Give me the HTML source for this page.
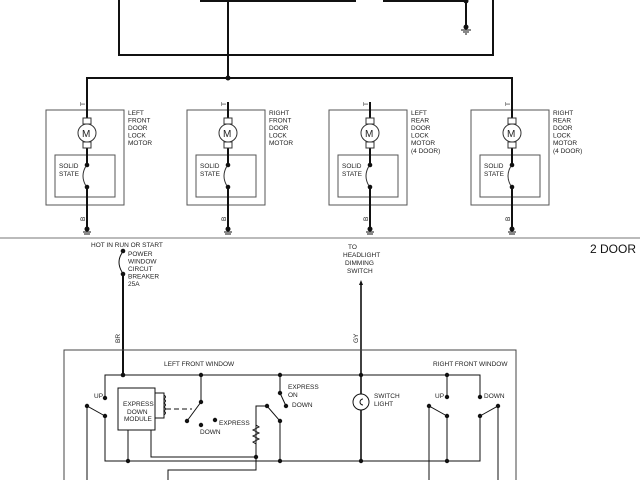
<!DOCTYPE html>
<html><head><style>
body{margin:0;background:#fff}
svg{display:block}
text{font-family:"Liberation Sans",sans-serif;font-size:6.5px;fill:#222}
</style></head><body>
<svg width="640" height="480" viewBox="0 0 640 480" xmlns="http://www.w3.org/2000/svg">
<g stroke="#111" fill="none" stroke-width="2">
<path d="M119 0V55H493V0"/>
<path d="M200 1H356M383 1H466V28"/>
<path d="M228 0V78"/>
<path d="M87 110V78H512V110"/>
</g>
<circle cx="228" cy="78" r="2.5" fill="#111"/>
<circle cx="466" cy="1" r="2.5" fill="#111"/>
<circle cx="466" cy="27" r="2.5" fill="#111"/>
<path d="M461 30h10M463 32h6M465 34h2" stroke="#111"/>
<g id="u">
<rect x="46" y="110" width="78" height="95" fill="none" stroke="#555"/>
<rect x="55" y="155" width="60" height="42" fill="none" stroke="#555"/>
<path d="M87 102V118M87 148V165M87 187V230" stroke="#111" stroke-width="2"/>
<rect x="83" y="118" width="8" height="6" fill="#fff" stroke="#333"/>
<rect x="83" y="142" width="8" height="6" fill="#fff" stroke="#333"/>
<circle cx="87" cy="133" r="9" fill="#fff" stroke="#333"/>
<text x="82" y="137" style="font-size:10px">M</text>
<circle cx="87" cy="165" r="2.3" fill="#111"/>
<circle cx="87" cy="187" r="2.3" fill="#111"/>
<path d="M86 166Q80 176 86 186" fill="none" stroke="#333"/>
<text x="59" y="168">SOLID</text><text x="59" y="176">STATE</text>
<text x="0" y="0" transform="translate(85,106) rotate(-90)">T</text>
<text x="0" y="0" transform="translate(85,221) rotate(-90)">B</text>
<circle cx="87" cy="229" r="2.5" fill="#111"/>
<path d="M83 232h8M84 234h6" stroke="#111"/>
</g>
<use href="#u" x="141"/><use href="#u" x="283"/><use href="#u" x="425"/>
<g>
<text x="128" y="115">LEFT</text><text x="128" y="122.5">FRONT</text><text x="128" y="130">DOOR</text><text x="128" y="137.5">LOCK</text><text x="128" y="145">MOTOR</text>
<text x="269" y="115">RIGHT</text><text x="269" y="122.5">FRONT</text><text x="269" y="130">DOOR</text><text x="269" y="137.5">LOCK</text><text x="269" y="145">MOTOR</text>
<text x="411" y="115">LEFT</text><text x="411" y="122.5">REAR</text><text x="411" y="130">DOOR</text><text x="411" y="137.5">LOCK</text><text x="411" y="145">MOTOR</text><text x="411" y="153">(4 DOOR)</text>
<text x="553" y="115">RIGHT</text><text x="553" y="122.5">REAR</text><text x="553" y="130">DOOR</text><text x="553" y="137.5">LOCK</text><text x="553" y="145">MOTOR</text><text x="553" y="153">(4 DOOR)</text>
</g>
<path d="M0 238H640" stroke="#777"/>
<text x="590" y="253" style="font-size:12px;fill:#111">2 DOOR</text>
<text x="91" y="247">HOT IN RUN OR START</text>
<text x="128" y="256">POWER</text><text x="128" y="263.5">WINDOW</text><text x="128" y="271">CIRCUT</text><text x="128" y="278.5">BREAKER</text><text x="128" y="286">25A</text>
<text x="348" y="249">TO</text><text x="343" y="257">HEADLIGHT</text><text x="345" y="265">DIMMING</text><text x="347" y="273">SWITCH</text>
<text x="0" y="0" transform="translate(120,343) rotate(-90)">BR</text>
<text x="0" y="0" transform="translate(358,343) rotate(-90)">GY</text>
<g stroke="#111" fill="none">
<path d="M123 274V375" stroke-width="2"/>
<path d="M122 253Q116 262 122 272"/>
<path d="M361 283V461" stroke-width="1.6"/>
<path d="M64 480V350H516V480" stroke="#444"/>
<path d="M105 397V375H480V397M105 416V461H480V416"/>
<path d="M87 480V406L105 416"/>
<rect x="118" y="388" width="37" height="42" fill="#fff"/>
<path d="M155 393H164V418H155M164 395q3 2 0 4q3 2 0 4q3 2 0 4q3 2 0 4q3 2 0 4"/>
<path d="M166 409H192" stroke-dasharray="5,3"/>
<path d="M201 375V402L187 421"/>
<path d="M128 430V461M151 430V457H256V425l3 2-6 3 6 3-6 3 6 3-6 3 3 2V406H267L280 421V461"/>
<path d="M256 457V470H168V480"/>
<path d="M280 375V393L286 406"/>
<path d="M447 375V397M447 416V461M447 416L429 406V480M480 416L498 406V480"/>
<circle cx="361" cy="402" r="8" fill="#fff"/>
<path d="M363 399a3 3 0 1 0 0 6"/>
</g>
<path d="M361 280l-2 5h4z" fill="#111"/>
<g fill="#111">
<circle cx="123" cy="251" r="2.3"/><circle cx="123" cy="274" r="2.3"/><circle cx="123" cy="375" r="2.3"/>
<circle cx="105" cy="398" r="2.2"/><circle cx="105" cy="416" r="2.2"/><circle cx="87" cy="406" r="2.2"/>
<circle cx="201" cy="375" r="2.2"/><circle cx="201" cy="402" r="2.2"/><circle cx="187" cy="421" r="2.2"/>
<circle cx="201" cy="425" r="2.2"/><circle cx="215" cy="420" r="2.2"/>
<circle cx="128" cy="461" r="2.2"/><circle cx="256" cy="457" r="2.2"/>
<circle cx="267" cy="406" r="2.2"/><circle cx="280" cy="421" r="2.2"/><circle cx="280" cy="461" r="2.2"/>
<circle cx="280" cy="375" r="2.2"/><circle cx="280" cy="393" r="2.2"/><circle cx="286" cy="406" r="2.2"/>
<circle cx="361" cy="375" r="2.2"/><circle cx="361" cy="461" r="2.2"/>
<circle cx="447" cy="375" r="2.2"/><circle cx="447" cy="397" r="2.2"/><circle cx="447" cy="416" r="2.2"/><circle cx="429" cy="406" r="2.2"/><circle cx="447" cy="461" r="2.2"/>
<circle cx="480" cy="397" r="2.2"/><circle cx="480" cy="416" r="2.2"/><circle cx="498" cy="406" r="2.2"/>
</g>
<text x="164" y="366">LEFT FRONT WINDOW</text>
<text x="433" y="366">RIGHT FRONT WINDOW</text>
<text x="94" y="398">UP</text>
<text x="123" y="406">EXPRESS</text><text x="127" y="414">DOWN</text><text x="124" y="421">MODULE</text>
<text x="219" y="425">EXPRESS</text><text x="200" y="434">DOWN</text>
<text x="288" y="389">EXPRESS</text><text x="288" y="397">ON</text><text x="292" y="407">DOWN</text>
<text x="374" y="398">SWITCH</text><text x="374" y="406">LIGHT</text>
<text x="435" y="398">UP</text><text x="484" y="398">DOWN</text>
</svg>
</body></html>
